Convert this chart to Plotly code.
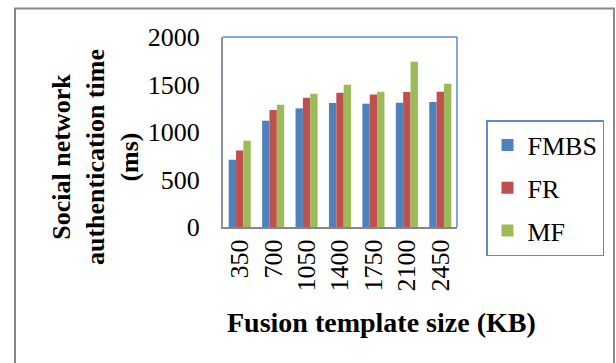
import plotly.graph_objects as go

# Fusion template sizes (KB) and authentication times (ms)
template_sizes = ["350", "700", "1050", "1400", "1750", "2100", "2450"]
fmbs_ms = [708, 1119, 1249, 1305, 1298, 1308, 1316]
fr_ms = [806, 1231, 1361, 1414, 1396, 1421, 1424]
mf_ms = [908, 1287, 1403, 1498, 1424, 1740, 1508]

W, H = 616, 363
ML, MR, MT, MB = 223, 159, 37, 136
PW, PH = W - ML - MR, H - MT - MB

def px_x(x):
    return (x - ML) / PW

def px_y(y):
    return (H - MB - y) / PH

FONT = "Times New Roman, Liberation Serif, serif"

fig = go.Figure()
series = [("FMBS", fmbs_ms, "#4F81BD"), ("FR", fr_ms, "#C0504D"), ("MF", mf_ms, "#9BBB59")]
for name, vals, col in series:
    fig.add_trace(go.Bar(
        x=template_sizes, y=vals, name=name, legendgroup=name,
        marker=dict(color=col, line=dict(width=0)),
    ))

fig.update_layout(
    width=W, height=H,
    margin=dict(l=ML, r=MR, t=MT, b=MB),
    paper_bgcolor="white", plot_bgcolor="white",
    barmode="group", bargap=0.34, bargroupgap=0,
    font=dict(family=FONT, size=26, color="black"),
    showlegend=True,
    legend=dict(
        x=px_x(486), y=px_y(120), xanchor="left", yanchor="top",
        bgcolor="white", bordercolor="#5B8BD0", borderwidth=1.5,
        font=dict(family=FONT, size=26, color="black"),
        tracegroupgap=6, itemwidth=30,
    ),
    xaxis=dict(
        type="category", tickangle=-90, showgrid=False,
        showline=True, linecolor="#868686", linewidth=2,
        ticks="", ticklabelstandoff=0,
        tickfont=dict(family=FONT, size=26),
    ),
    yaxis=dict(
        range=[0, 2000], dtick=500, showgrid=False, zeroline=False,
        showline=True, linecolor="#8A94A8", linewidth=2,
        ticks="", ticklabelstandoff=16,
        tickfont=dict(family=FONT, size=26),
    ),
    shapes=[
        # plot-area frame (top and right edges)
        dict(type="line", xref="paper", yref="paper", x0=0, x1=1, y0=1, y1=1,
             line=dict(color="#5B8BD0", width=1.5)),
        dict(type="line", xref="paper", yref="paper", x0=1, x1=1, y0=0, y1=1,
             line=dict(color="#5B8BD0", width=1.5)),
        # outer chart frame
        dict(type="rect", xref="paper", yref="paper",
             x0=px_x(15), x1=px_x(614), y0=px_y(375), y1=px_y(8.5),
             line=dict(color="#888888", width=2), layer="below"),
    ],
    annotations=[
        dict(text="<b>Social network<br>authentication time<br>(ms)</b>",
             xref="paper", yref="paper", x=px_x(95), y=px_y(157),
             xanchor="center", yanchor="middle", textangle=-90,
             showarrow=False, font=dict(family=FONT, size=26)),
        dict(text="<b>Fusion template size (KB)</b>",
             xref="paper", yref="paper", x=px_x(381), y=px_y(322),
             xanchor="center", yanchor="middle",
             showarrow=False, font=dict(family=FONT, size=28)),
    ],
)

fig.write_html("out.html")
